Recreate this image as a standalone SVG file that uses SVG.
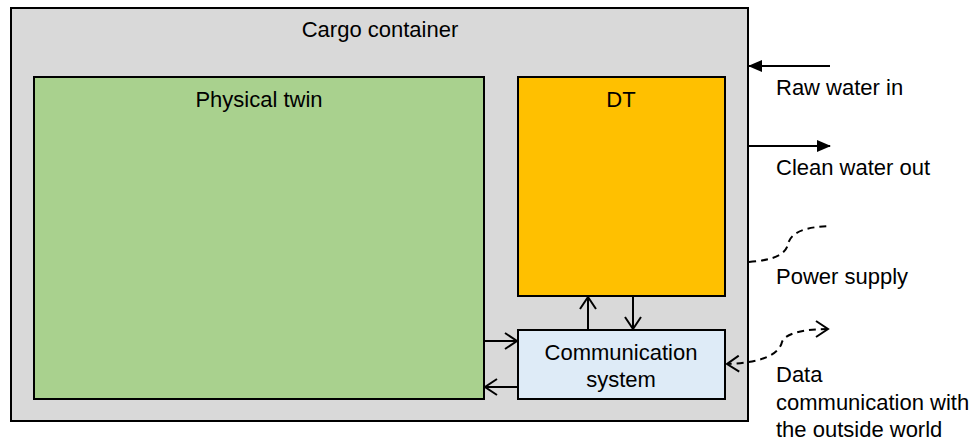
<svg xmlns="http://www.w3.org/2000/svg" width="973" height="441" viewBox="0 0 973 441">
<style>
text{font-family:"Liberation Sans",Arial,sans-serif;font-size:22px;fill:#000}
.c{text-anchor:middle}
.box{stroke:#000;stroke-width:2}
.ln{stroke:#000;stroke-width:2;fill:none}
.dash{stroke:#000;stroke-width:2;fill:none;stroke-dasharray:7,5}
</style>
<defs>
<marker id="open" markerWidth="16" markerHeight="18" refX="13" refY="9" orient="auto-start-reverse" markerUnits="userSpaceOnUse">
<path d="M1,1 L13,9 L1,17" fill="none" stroke="#000" stroke-width="2"/>
</marker>
<marker id="fill" markerWidth="14" markerHeight="12" refX="13" refY="6" orient="auto" markerUnits="userSpaceOnUse">
<path d="M0,0 L14,6 L0,12 Z" fill="#000"/>
</marker>
</defs>
<rect width="973" height="441" fill="#fff"/>
<g id="container">
<rect class="box" x="11" y="8" width="737" height="413" fill="#d9d9d9"/>
<text class="c" x="380" y="37">Cargo container</text>
</g>
<g id="physical-twin">
<rect class="box" x="34" y="77" width="450" height="322" fill="#a9d18e"/>
<text class="c" x="259" y="107">Physical twin</text>
</g>
<g id="dt">
<rect class="box" x="518" y="77" width="207" height="219" fill="#ffc000"/>
<text class="c" x="621" y="107">DT</text>
</g>
<g id="comm">
<rect class="box" x="518" y="330" width="207" height="69" fill="#deebf7"/>
<text class="c" x="621" y="360">Communication</text>
<text class="c" x="621" y="387">system</text>
</g>
<g id="labels">
<text x="776" y="95">Raw water in</text>
<text x="776" y="175">Clean water out</text>
<text x="776" y="284">Power supply</text>
<text x="776" y="382">Data</text>
<text x="776" y="410">communication with</text>
<text x="776" y="437">the outside world</text>
</g>
<g id="connectors">
<line class="ln" x1="484" y1="341" x2="517" y2="341" marker-end="url(#open)"/>
<line class="ln" x1="518" y1="387" x2="485" y2="387" marker-end="url(#open)"/>
<line class="ln" x1="588" y1="330" x2="588" y2="297" marker-end="url(#open)"/>
<line class="ln" x1="633" y1="296" x2="633" y2="329" marker-end="url(#open)"/>
<line class="ln" x1="830" y1="66" x2="749" y2="66" marker-end="url(#fill)"/>
<line class="ln" x1="748" y1="146" x2="830" y2="146" marker-end="url(#fill)"/>
<path class="dash" d="M749,262 C775,260 786,254 788,244 C791,232 805,227 830,226"/>
<path class="dash" d="M828,329 C805,329 785,333 782,342 C779,355 760,363 727,364" marker-start="url(#open)" marker-end="url(#open)"/>
</g>
</svg>
